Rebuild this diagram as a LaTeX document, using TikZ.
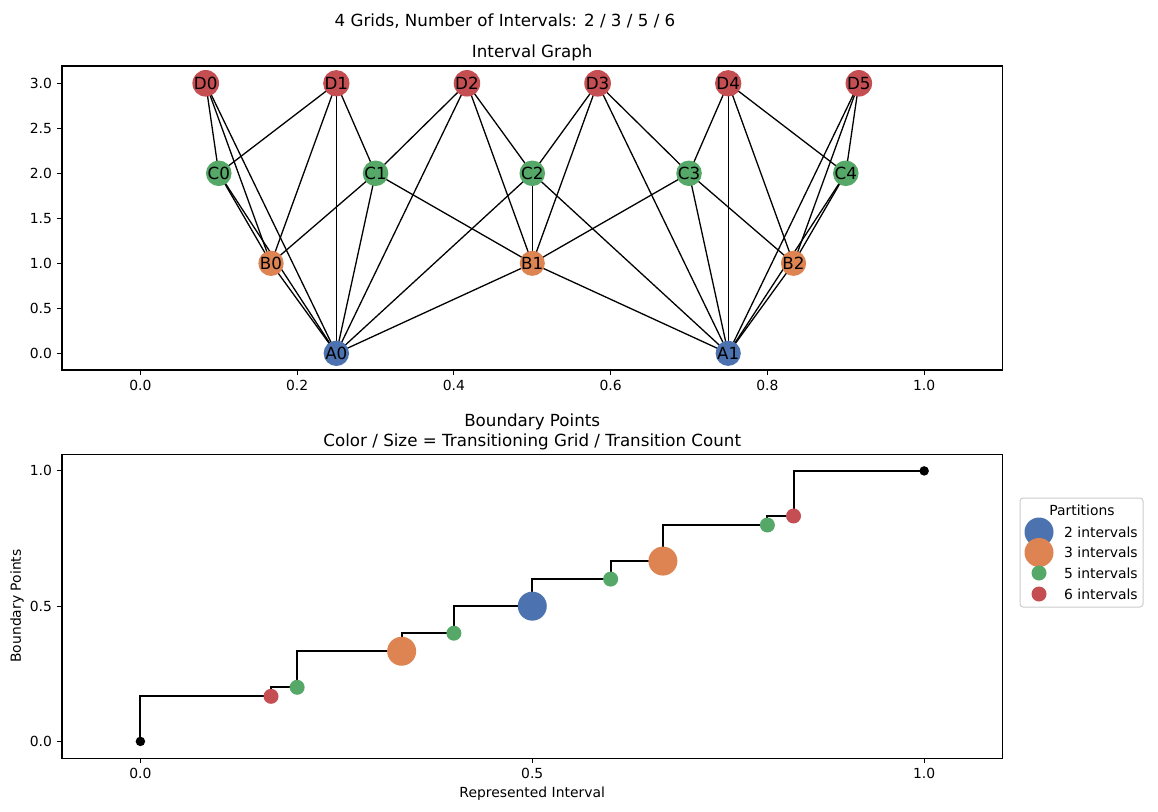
\documentclass[tikz,border=0pt]{standalone}
\usepackage{fontspec}
\setmainfont{DejaVu Sans}
\pgfdeclarelayer{background}
\pgfsetlayers{background,main}
\definecolor{sbblue}{HTML}{4C72B0}
\definecolor{sborange}{HTML}{DD8452}
\definecolor{sbgreen}{HTML}{55A868}
\definecolor{sbred}{HTML}{C44E52}
\definecolor{legedge}{gray}{0.8}
\newcommand\mybpt[2]{\coordinate (#1) at ({140.4+783.75*(#2)},{741.4-270.5*(#2)});}
\begin{document}
\begin{tikzpicture}[x=1pt,y=-1pt,
  gnode/.style={circle,minimum size=24pt,inner sep=0pt,font=\fontsize{16.7}{20}\selectfont},
  edge/.style={line width=1.3pt,black},
  spine/.style={line width=1.1pt,black},
  tickmark/.style={line width=1.1pt,black},
  ticklab/.style={font=\fontsize{13.9}{16}\selectfont,inner sep=0pt},
  titlelab/.style={font=\fontsize{16.7}{20}\selectfont,inner sep=0pt},
  steppath/.style={line width=2pt,black},
  bigdot/.style={circle,minimum size=29pt,inner sep=0pt},
  smalldot/.style={circle,minimum size=15pt,inner sep=0pt},
  enddot/.style={circle,fill=black,minimum size=9.5pt,inner sep=0pt},
  legbox/.style={draw=legedge,fill=white,line width=1pt,rounded corners=3pt}]
\begin{pgfonlayer}{background}
\fill[white] (0,0) rectangle (1158,811);
\end{pgfonlayer}
\useasboundingbox (0,0) rectangle (1158,811);

% ---------- titles ----------
\node[titlelab,anchor=base] (suptitle) at (505,27) {4 Grids, Number of Intervals: 2 / 3 / 5 / 6};
\node[titlelab,anchor=base] (toptitle) at (532.2,57.7) {Interval Graph};
\node[titlelab,anchor=base] (bottitle1) at (532.2,426) {Boundary Points};
\node[titlelab,anchor=base] (bottitle2) at (532.2,446) {Color / Size = Transitioning Grid / Transition Count};

% ---------- top axes ----------
\draw[spine] (62,66) rectangle (1002.5,370);
\foreach \k/\lab in {0/0.0,1/0.2,2/0.4,3/0.6,4/0.8,5/1.0}{
  \draw[tickmark] ({140.4+156.75*\k},370) -- ({140.4+156.75*\k},374.9);
  \node[ticklab,anchor=north] (tx\k) at ({140.4+156.75*\k},379.8) {\lab};
}
\foreach \k/\lab in {0/3.0,1/2.5,2/2.0,3/1.5,4/1.0,5/0.5,6/0.0}{
  \draw[tickmark] (62,{83.3+45*\k}) -- (57.1,{83.3+45*\k});
  \node[ticklab,anchor=east] (ty\k) at (52.2,{83.3+45*\k}) {\lab};
}

% graph nodes
\foreach \i in {0,...,5}
  \node[gnode,fill=sbred] (D\i) at ({140.4+783.75*(2*\i+1)/12},83.3) {D\i};
\foreach \i in {0,...,4}
  \node[gnode,fill=sbgreen] (C\i) at ({140.4+783.75*(2*\i+1)/10},173.3) {C\i};
\foreach \i in {0,...,2}
  \node[gnode,fill=sborange] (B\i) at ({140.4+783.75*(2*\i+1)/6},263.3) {B\i};
\foreach \i in {0,...,1}
  \node[gnode,fill=sbblue] (A\i) at ({140.4+783.75*(2*\i+1)/4},353.3) {A\i};

\begin{pgfonlayer}{background}
\foreach \a/\b in {D0/C0,D0/B0,D0/A0,
                   D1/C0,D1/C1,D1/B0,D1/A0,
                   D2/C1,D2/C2,D2/B1,D2/A0,
                   D3/C2,D3/C3,D3/B1,D3/A1,
                   D4/C3,D4/C4,D4/B2,D4/A1,
                   D5/C4,D5/B2,D5/A1,
                   C0/B0,C0/A0,
                   C1/B0,C1/B1,C1/A0,
                   C2/B1,C2/A0,C2/A1,
                   C3/B1,C3/B2,C3/A1,
                   C4/B2,C4/A1,
                   B0/A0,B1/A0,B1/A1,B2/A1}
  \draw[edge] (\a.center) -- (\b.center);
\end{pgfonlayer}

% ---------- bottom axes ----------
\draw[spine] (62,454.3) rectangle (1002.5,758.3);
\foreach \k/\lab in {0/0.0,1/0.5,2/1.0}{
  \draw[tickmark] ({140.4+391.875*\k},758.3) -- ({140.4+391.875*\k},763.2);
  \node[ticklab,anchor=north] (bx\k) at ({140.4+391.875*\k},768.1) {\lab};
  \draw[tickmark] (62,{741.4-135.25*\k}) -- (57.1,{741.4-135.25*\k});
  \node[ticklab,anchor=east] (by\k) at (52.2,{741.4-135.25*\k}) {\lab};
}
\node[ticklab] (xlabel) at (532.2,794) {Represented Interval};
\node[ticklab,rotate=90] (ylabel) at (17,606) {Boundary Points};

\mybpt{b0}{0}
\mybpt{b1}{1/6}
\mybpt{b2}{1/5}
\mybpt{b3}{1/3}
\mybpt{b4}{2/5}
\mybpt{b5}{1/2}
\mybpt{b6}{3/5}
\mybpt{b7}{2/3}
\mybpt{b8}{4/5}
\mybpt{b9}{5/6}
\mybpt{b10}{1}

\draw[steppath] (b0) |- (b1) |- (b2) |- (b3) |- (b4) |- (b5) |- (b6) |- (b7) |- (b8) |- (b9) |- (b10);

\node[enddot] (p0) at (b0) {};
\node[smalldot,fill=sbred] (p1) at (b1) {};
\node[smalldot,fill=sbgreen] (p2) at (b2) {};
\node[bigdot,fill=sborange] (p3) at (b3) {};
\node[smalldot,fill=sbgreen] (p4) at (b4) {};
\node[bigdot,fill=sbblue] (p5) at (b5) {};
\node[smalldot,fill=sbgreen] (p6) at (b6) {};
\node[bigdot,fill=sborange] (p7) at (b7) {};
\node[smalldot,fill=sbgreen] (p8) at (b8) {};
\node[smalldot,fill=sbred] (p9) at (b9) {};
\node[enddot] (p10) at (b10) {};

% ---------- legend ----------
\draw[legbox] (1020,498) rectangle (1143,607);
\node[ticklab] (legtitle) at (1082,510) {Partitions};
\node[bigdot,fill=sbblue] (lm1) at (1039,532) {};
\node[bigdot,fill=sborange] (lm2) at (1039,552.5) {};
\node[smalldot,fill=sbgreen] (lm3) at (1039,573) {};
\node[smalldot,fill=sbred] (lm4) at (1039,594) {};
\node[ticklab,anchor=west] (lt1) at (1064,532) {2 intervals};
\node[ticklab,anchor=west] (lt2) at (1064,552.5) {3 intervals};
\node[ticklab,anchor=west] (lt3) at (1064,573) {5 intervals};
\node[ticklab,anchor=west] (lt4) at (1064,594) {6 intervals};
\end{tikzpicture}
\end{document}
